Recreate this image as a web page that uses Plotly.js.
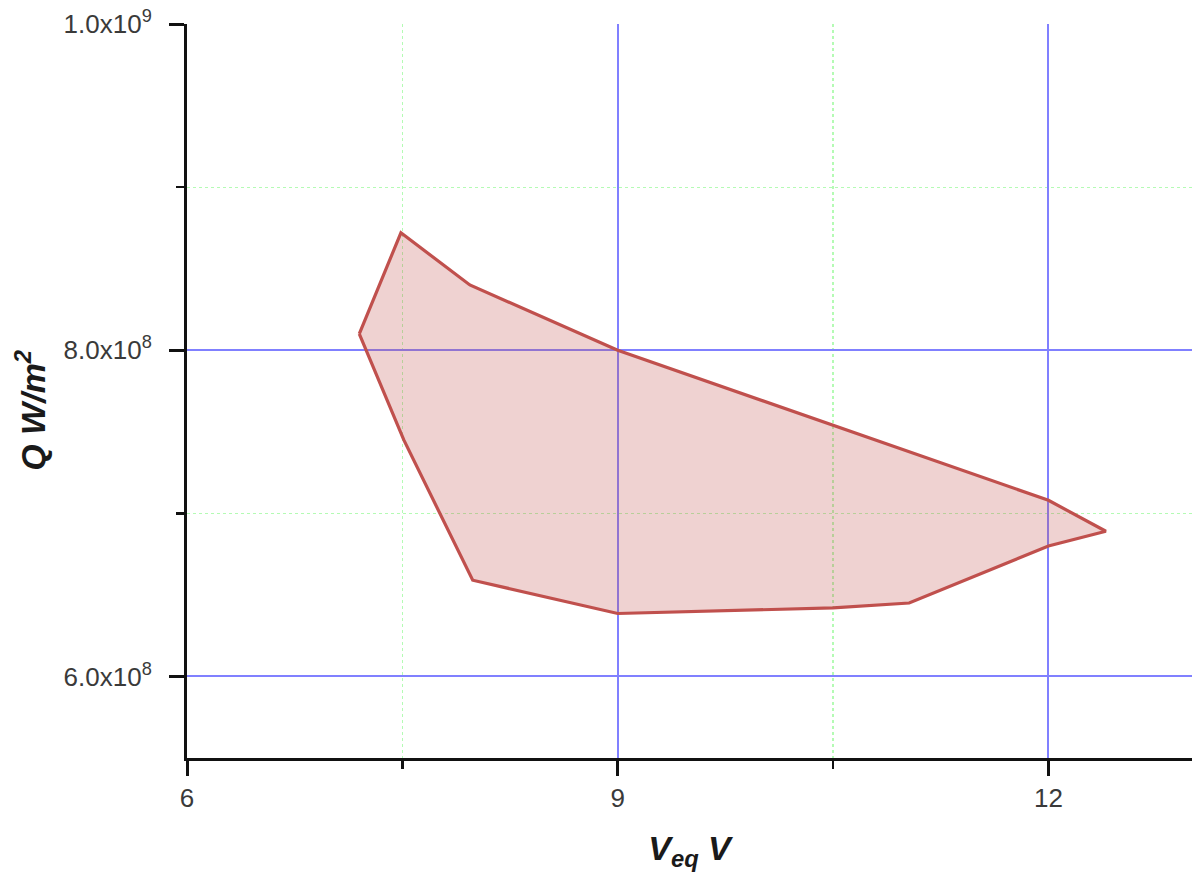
<!DOCTYPE html>
<html>
<head>
<meta charset="utf-8">
<script src="https://cdn.plot.ly/plotly-3.0.1.min.js"></script>
<style>html,body{margin:0;padding:0;background:#fff;}#chart{width:1200px;height:891px;}</style>
</head>
<body>
<div id="chart"></div>
<script>
// Boundary of the operating region (V_eq in V, Q in W/m^2), traced around the polygon
var vEq = [7.2, 7.49, 7.97, 9.0, 12.0, 12.4, 12.0, 11.03, 10.5, 9.0, 7.99, 7.51, 7.2];
var qFlux = [8.1e8, 8.72e8, 8.4e8, 8.0e8, 7.08e8, 6.89e8, 6.8e8, 6.45e8, 6.42e8, 6.386e8, 6.59e8, 7.45e8, 8.1e8];

var xTickVals = [6, 9, 12];
var xTickText = ['6', '9', '12'];
var yTickVals = [6e8, 8e8, 1e9];
var yTickText = ['6.0x10<sup>8</sup>', '8.0x10<sup>8</sup>', '1.0x10<sup>9</sup>'];
var xTitle = '<b><i>V<sub>eq</sub> V</i></b>';
var yTitle = '<b><i>Q W/m<sup>2</sup></i></b>';

var trace = {
  x: vEq, y: qFlux, type: 'scatter', mode: 'lines', fill: 'toself',
  line: {color: '#c0504d', width: 3.2},
  fillcolor: 'rgba(192,80,77,0.26)',
  hoverinfo: 'skip'
};

var tickFont = {family: 'Liberation Sans, Arial, sans-serif', size: 26, color: '#3a3a3a'};
var titleFont = {family: 'Liberation Sans, Arial, sans-serif', size: 34, color: '#1a1a1a'};

var layout = {
  width: 1200, height: 891,
  margin: {l: 187, r: 8, t: 24, b: 133},
  paper_bgcolor: '#fff', plot_bgcolor: '#fff',
  showlegend: false,
  xaxis: {
    range: [6, 13], tickmode: 'array', tickvals: xTickVals, ticktext: xTickText,
    showline: true, linecolor: '#111', linewidth: 3,
    ticks: 'outside', ticklen: 15, tickwidth: 3, tickcolor: '#111',
    tickfont: tickFont,
    showgrid: true, gridcolor: '#8080ff', gridwidth: 2,
    zeroline: false,
    minor: {tick0: 6, dtick: 1.5, ticks: 'outside', ticklen: 8, tickwidth: 2.5, tickcolor: '#111',
            showgrid: true, gridcolor: '#b4fbb4', gridwidth: 1.2, griddash: 'dot'},
    title: {text: xTitle, font: titleFont, standoff: 24}
  },
  yaxis: {
    range: [5.5e8, 1.0e9], tickmode: 'array', tickvals: yTickVals, ticktext: yTickText,
    showline: true, linecolor: '#111', linewidth: 3,
    ticks: 'outside', ticklen: 15, tickwidth: 3, tickcolor: '#111',
    tickfont: tickFont, ticklabelstandoff: 12,
    showgrid: true, gridcolor: '#8080ff', gridwidth: 2,
    zeroline: false,
    minor: {tick0: 6e8, dtick: 1e8, ticks: 'outside', ticklen: 8, tickwidth: 2.5, tickcolor: '#111',
            showgrid: true, gridcolor: '#b4fbb4', gridwidth: 1.2, griddash: 'dot'}
  },
  annotations: [{
    text: yTitle, font: titleFont, textangle: -90, showarrow: false,
    xref: 'paper', yref: 'paper', x: -0.1565, y: 0.474, xanchor: 'center', yanchor: 'middle'
  }]
};

Plotly.newPlot('chart', [trace], layout, {displayModeBar: false, staticPlot: true});
</script>
</body>
</html>
